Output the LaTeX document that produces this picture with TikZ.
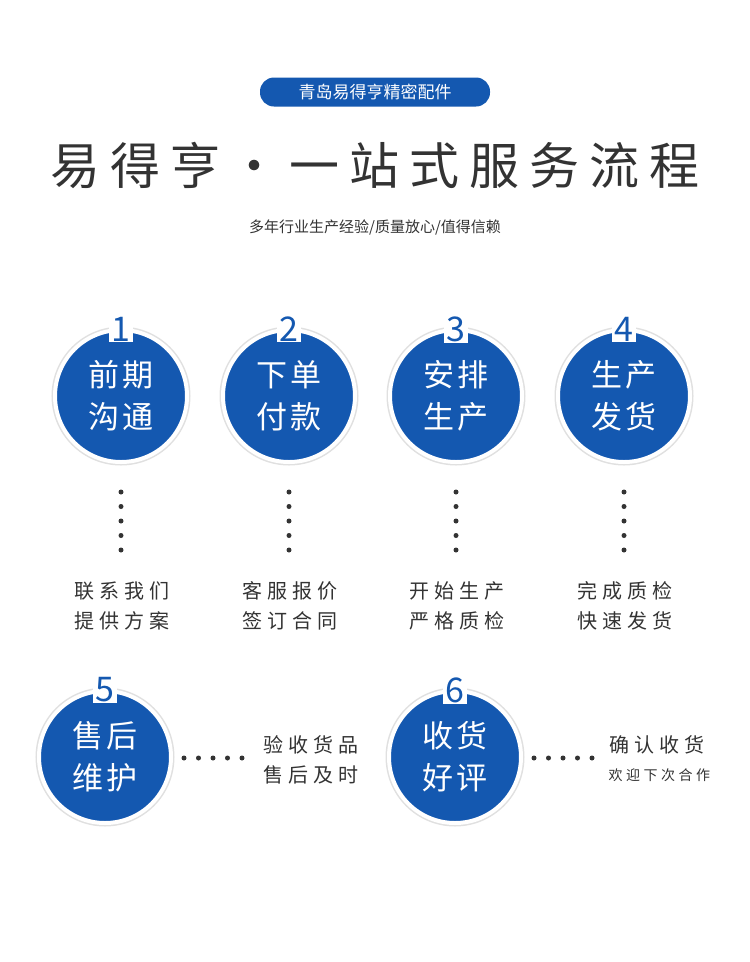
\documentclass[tikz,border=0pt]{standalone}
\usepackage{fontspec}
\setmainfont{Noto Sans CJK SC}
\newfontfamily\cjk{Noto Sans CJK SC}
\newfontfamily\cjkb[AutoFakeBold=2.5]{Noto Sans CJK SC}
\newfontfamily\cjkls[LetterSpace=25]{Noto Sans CJK SC}
\newfontfamily\cjkt[LetterSpace=20]{Noto Sans CJK SC}
\newfontfamily\cjkc[AutoFakeBold=1.5,LetterSpace=8]{Noto Sans CJK SC}
\definecolor{bl}{HTML}{1458B0}
\definecolor{tx}{HTML}{333333}
\tikzset{x=1pt,y=-1pt,
 stepc/.style={circle,fill=bl,draw=white,line width=4pt,minimum size=132pt,inner sep=0pt,
   text=white,font=\cjkc\fontsize{31}{42}\selectfont,align=center,
   preaction={draw=black!12,line width=7pt}},
 num/.style={fill=white,text=bl,font=\cjkb\fontsize{34}{34}\selectfont,inner sep=1pt,minimum width=24pt,minimum height=26pt},
 lab/.style={text=tx,font=\cjkls\fontsize{20}{30}\selectfont,align=center},
 dot/.style={circle,fill=tx,inner sep=0pt,minimum size=5pt}}
\begin{document}
\begin{tikzpicture}
\useasboundingbox[fill=white] (0,0) rectangle (750,962);
\node[fill=bl,rounded corners=14pt,minimum width=230pt,minimum height=29pt,text=white,font=\cjk\fontsize{17}{17}\selectfont] (pill) at (375,92) {青岛易得亨精密配件};
\node[text=tx,font=\cjkt\fontsize{50}{50}\selectfont] (title) at (375,165) {易得亨·一站式服务流程};
\node[text=tx,font=\cjk\fontsize{15}{15}\selectfont] (sub) at (375,227) {多年行业生产经验/质量放心/值得信赖};
\foreach \i/\x/\t/\l in {1/121/前期\\沟通/联系我们\\提供方案,2/289/下单\\付款/客服报价\\签订合同,3/456/安排\\生产/开始生产\\严格质检,4/624/生产\\发货/完成质检\\快速发货}{
 \node[stepc] (c\i) at (\x,396) {\t};
 \node[num] (n\i) at (\x,329) {\i};
 \foreach \k in {0,...,4}{\node[dot] (d\i\k) at (\x,492+14.5*\k) {};}
 \node[lab] (l\i) at (\x+1,606) {\l};
}
\node[stepc] (c5) at (105,757) {售后\\维护};
\node[num] (n5) at (105,690) {5};
\node[stepc] (c6) at (455,757) {收货\\好评};
\node[num] (n6) at (455,690) {6};
\foreach \k in {0,...,4}{
 \node[dot] (e\k) at (184+14.5*\k,758) {};
 \node[dot] (f\k) at (534+14.5*\k,758) {};}
\node[lab] (l5) at (311,760) {验收货品\\售后及时};
\node[lab,anchor=west] (l6a) at (606,745) {确认收货};
\node[text=tx,font=\cjkls\fontsize{14}{14}\selectfont,anchor=west] (l6b) at (605,775) {欢迎下次合作};
\end{tikzpicture}
\end{document}
